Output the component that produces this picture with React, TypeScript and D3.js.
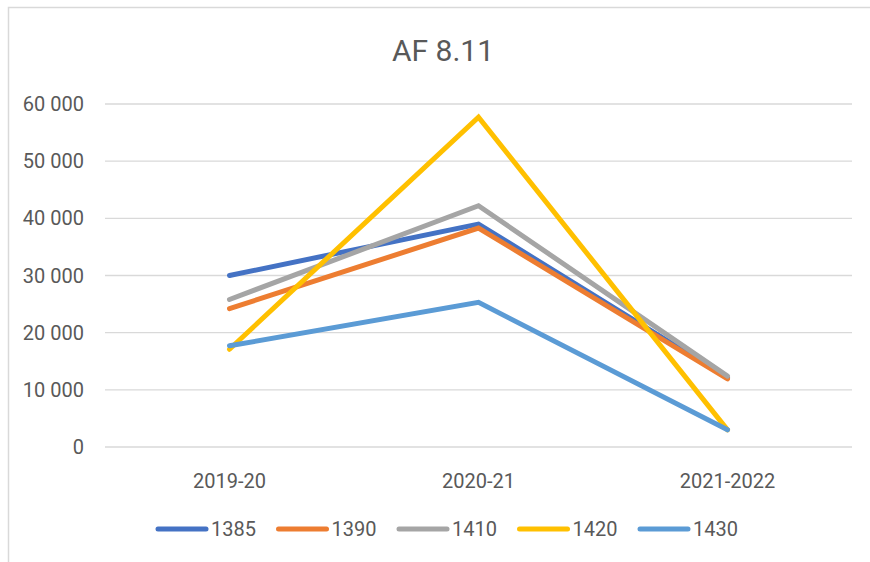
import { useRef, useEffect } from "react";
import * as d3 from "d3";

const categories = ["2019-20", "2020-21", "2021-2022"];
const seriesNames = ["1385", "1390", "1410", "1420", "1430"];
const values1385 = [30000, 39000, 12100];
const values1390 = [24200, 38300, 11900];
const values1410 = [25800, 42200, 12400];
const values1420 = [17100, 57700, 3000];
const values1430 = [17700, 25300, 3000];
const yTicks = [0, 10000, 20000, 30000, 40000, 50000, 60000];

const colors = ["#4472C4", "#ED7D31", "#A5A5A5", "#FFC000", "#5B9BD5"];
const font = "Roboto, 'Noto Sans', sans-serif";

export default function App() {
  const svgRef = useRef<SVGSVGElement>(null);
  const width = 870;
  const height = 562;

  useEffect(() => {
    if (!svgRef.current) return;
    const svg = d3.select(svgRef.current);
    svg.selectAll("*").remove();

    const series = [values1385, values1390, values1410, values1420, values1430].map((v, i) => ({
      name: seriesNames[i],
      values: v,
      color: colors[i],
    }));

    const margin = { top: 104, right: 18, bottom: 115, left: 105 };
    const x = d3
      .scaleBand<string>()
      .domain(categories)
      .range([margin.left, width - margin.right]);
    const y = d3
      .scaleLinear()
      .domain([0, 60000])
      .range([height - margin.bottom, margin.top]);

    // chart border
    svg
      .append("rect")
      .attr("x", 8.5)
      .attr("y", 7.5)
      .attr("width", width)
      .attr("height", height)
      .attr("fill", "white")
      .attr("stroke", "#d9d9d9")
      .attr("stroke-width", 1.5);

    // title
    svg
      .append("text")
      .attr("x", 443)
      .attr("y", 61)
      .attr("text-anchor", "middle")
      .attr("font-family", font)
      .attr("font-size", 30)
      .attr("fill", "#595959")
      .text("AF 8.11");

    // gridlines + y labels
    const grid = svg.append("g");
    grid
      .selectAll("line")
      .data(yTicks)
      .enter()
      .append("line")
      .attr("x1", margin.left)
      .attr("x2", width - margin.right)
      .attr("y1", (d) => y(d))
      .attr("y2", (d) => y(d))
      .attr("stroke", "#d9d9d9")
      .attr("stroke-width", 1.3);

    const fmt = (d: number) => d3.format(",")(d).replace(/,/g, " ");
    grid
      .selectAll("text")
      .data(yTicks)
      .enter()
      .append("text")
      .attr("x", 84)
      .attr("y", (d) => y(d))
      .attr("dy", "0.35em")
      .attr("text-anchor", "end")
      .attr("font-family", font)
      .attr("font-size", 20)
      .attr("fill", "#595959")
      .text((d) => fmt(d));

    // x labels
    svg
      .append("g")
      .selectAll("text")
      .data(categories)
      .enter()
      .append("text")
      .attr("x", (d) => (x(d) as number) + x.bandwidth() / 2)
      .attr("y", 488)
      .attr("text-anchor", "middle")
      .attr("font-family", font)
      .attr("font-size", 20)
      .attr("fill", "#595959")
      .text((d) => d);

    // lines
    const line = d3
      .line<number>()
      .x((_, i) => (x(categories[i]) as number) + x.bandwidth() / 2)
      .y((d) => y(d));

    svg
      .append("g")
      .selectAll("path")
      .data(series)
      .enter()
      .append("path")
      .attr("d", (d) => line(d.values))
      .attr("fill", "none")
      .attr("stroke", (d) => d.color)
      .attr("stroke-width", 5)
      .attr("stroke-linecap", "round")
      .attr("stroke-linejoin", "miter");

    // legend
    const legend = svg
      .append("g")
      .selectAll("g")
      .data(series)
      .enter()
      .append("g")
      .attr("transform", (_, i) => `translate(${158 + i * 120.5}, 529)`);
    legend
      .append("line")
      .attr("x1", 0)
      .attr("x2", 48)
      .attr("stroke", (d) => d.color)
      .attr("stroke-width", 5)
      .attr("stroke-linecap", "round");
    legend
      .append("text")
      .attr("x", 53)
      .attr("dy", "0.35em")
      .attr("font-family", font)
      .attr("font-size", 20)
      .attr("fill", "#595959")
      .text((d) => d.name);
  }, []);

  return (
    <svg
      ref={svgRef}
      width={width}
      height={height}
      style={{ position: "absolute", left: 0, top: 0 }}
    />
  );
}
